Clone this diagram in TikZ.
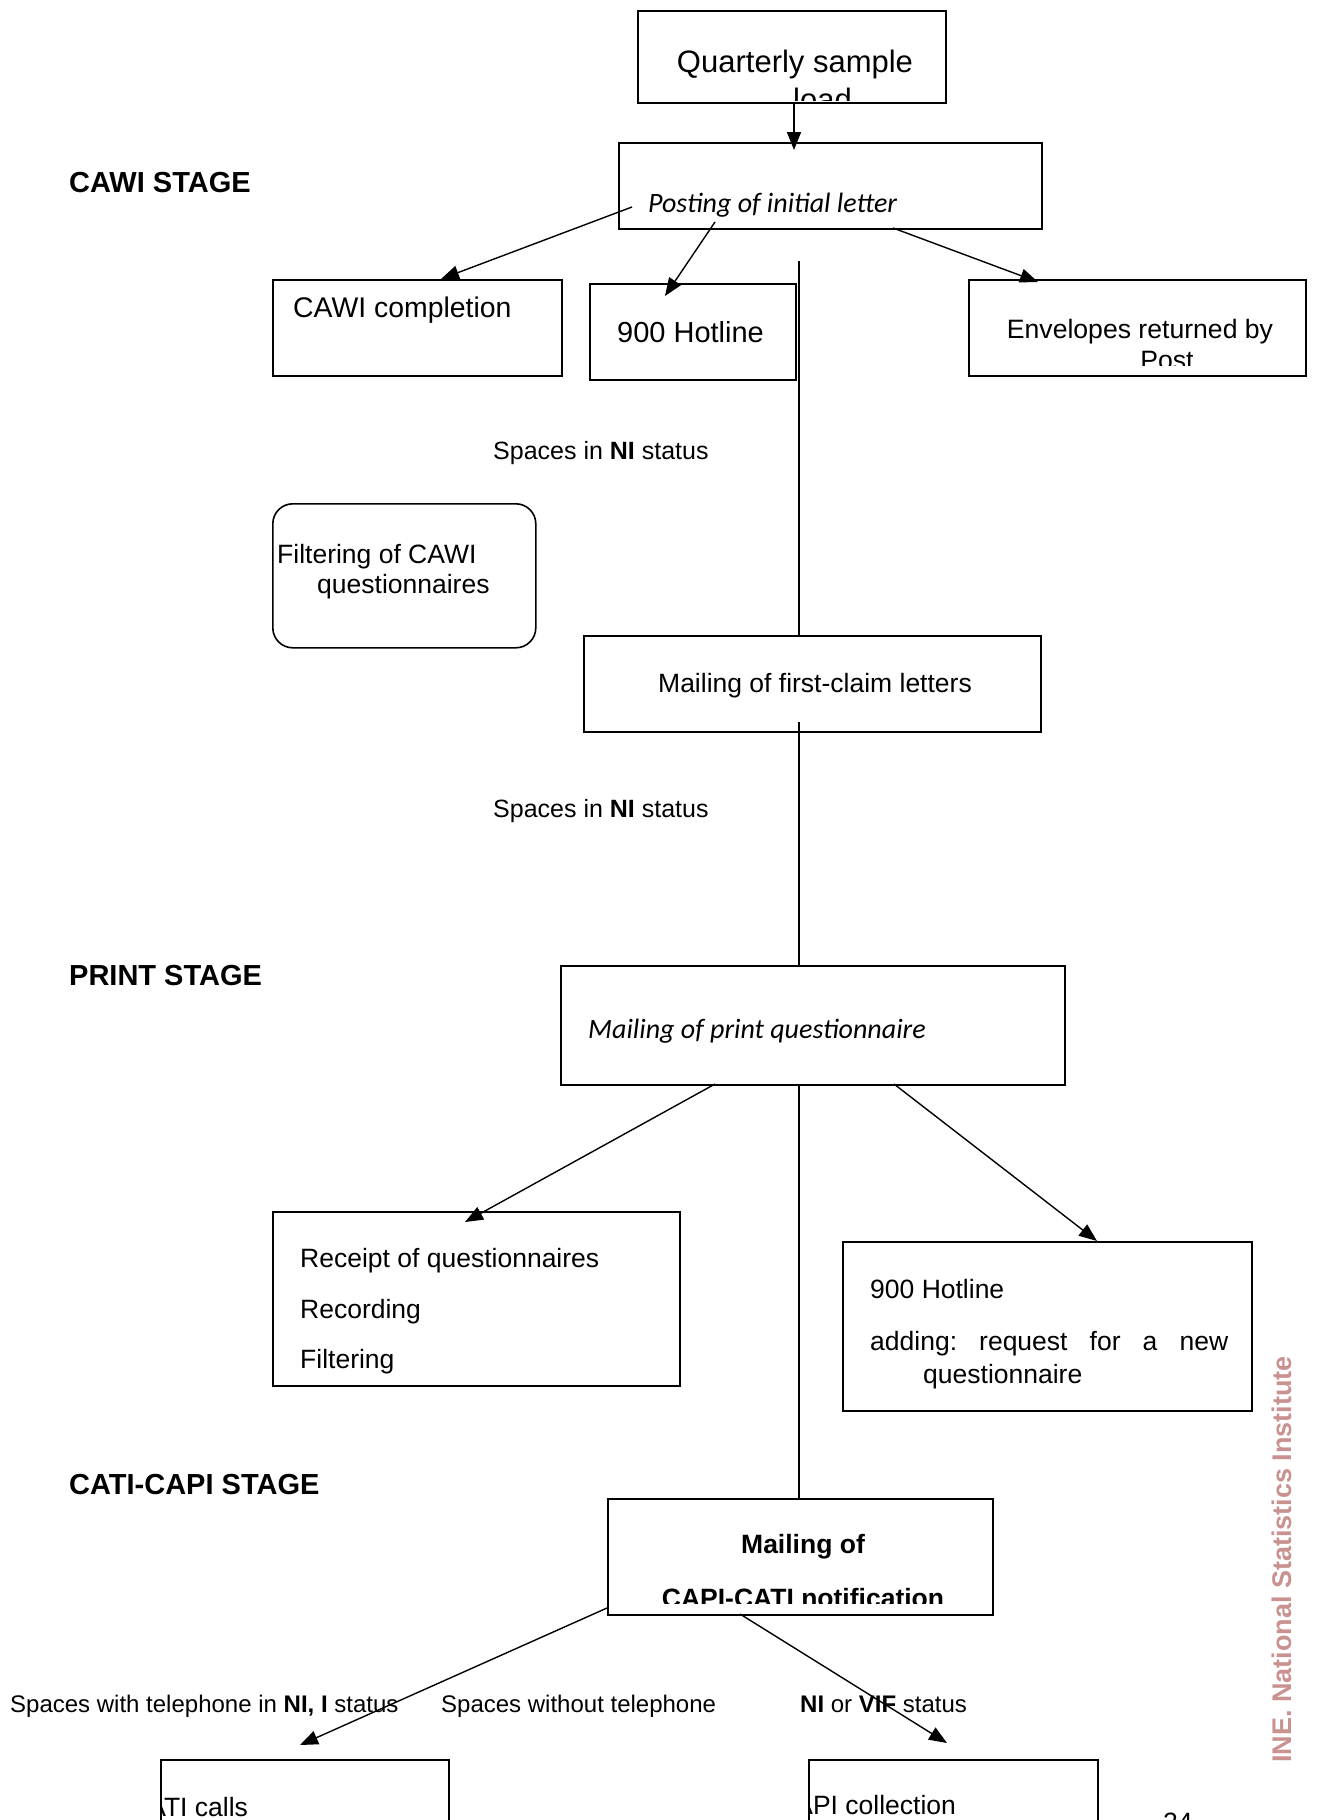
\documentclass[tikz,border=0pt]{standalone}
\usepackage{fontspec}
\setmainfont{Liberation Sans}
\newfontfamily\carl{Carlito}
\usetikzlibrary{arrows.meta}
\definecolor{wmcol}{RGB}{201,145,143}
\newcommand\fs[1]{\fontsize{#1}{#1}\selectfont}
\frenchspacing
\tikzset{
 box/.style={draw, line width=1.6pt, inner sep=0pt, anchor=north west},
 rbox/.style={box, rounded corners=20pt},
 lbl/.style={inner sep=0pt, anchor=base west, font=\fs{26.5}},
 lblc/.style={inner sep=0pt, anchor=base, font=\fs{26.5}},
 ital/.style={lbl, font=\carl\itshape\fs{28}},
 stage/.style={lbl, font=\bfseries\fs{29}},
 conn/.style={line width=1.4pt},
 arr/.style={line width=1.4pt, -{Triangle[length=18pt,width=14pt]}},
}
\begin{document}
\begin{tikzpicture}[x=1pt,y=-1pt]
\clip (0,0) rectangle (1319,1820);
\fill[white] (0,0) rectangle (1319,1820);

% ---------- boxes ----------
\node[box, minimum width=308pt, minimum height=92pt]  (qsl)   at (637,10)   {};
\node[box, minimum width=423pt, minimum height=86pt]  (post)  at (618,142)  {};
\node[box, minimum width=289pt, minimum height=96pt]  (cawi)  at (272,279)  {};
\node[box, minimum width=206pt, minimum height=96pt]  (hot1)  at (589,283)  {};
\node[box, minimum width=337pt, minimum height=96pt]  (env)   at (968,279)  {};
\node[rbox, minimum width=263pt, minimum height=144pt] (filt) at (272,503)  {};
\node[box, minimum width=457pt, minimum height=96pt]  (first) at (583,635)  {};
\node[box, minimum width=504pt, minimum height=119pt] (print) at (560,965)  {};
\node[box, minimum width=407pt, minimum height=174pt] (rec)   at (272,1211) {};
\node[box, minimum width=409pt, minimum height=169pt] (hot2)  at (842,1241) {};
\node[box, minimum width=385pt, minimum height=116pt] (capi)  at (607,1498) {};
\node[box, minimum width=288pt, minimum height=100pt] (cati)  at (160,1759) {};
\node[box, minimum width=289pt, minimum height=100pt] (capc)  at (808,1759) {};

% ---------- texts ----------
\node[lblc, font=\fs{31}] (qslt) at (795,72) {Quarterly sample};
\begin{scope}
 \clip (637,10) rectangle (945,100);
 \node[lbl, font=\fs{31}] (qsll) at (793,110) {load};
\end{scope}
\node[ital] (postt) at (648,212) {Posting of initial letter};
\node[lbl, font=\fs{28.4}] (cawit) at (293,317) {CAWI completion};
\node[lbl, font=\fs{29}] (hot1t) at (617,342) {900 Hotline};
\node[lblc, font=\fs{26.6}] (envt) at (1140,338) {Envelopes returned by};
\begin{scope}
 \clip (968,279) rectangle (1305,365);
 \node[lblc, font=\fs{26.6}] (envp) at (1167,369) {Post};
\end{scope}
\node[lbl, font=\fs{25}] (ni1) at (493,459) {Spaces in \textbf{NI} status};
\node[lbl] (filt1) at (277,563) {Filtering of CAWI};
\node[lbl] (filt2) at (317,593) {questionnaires};
\node[lblc] (firstt) at (815,692) {Mailing of first-claim letters};
\node[lbl, font=\fs{25}] (ni2) at (493,817) {Spaces in \textbf{NI} status};

\node[stage] (st1) at (69,192) {CAWI STAGE};
\node[stage] (st2) at (69,985) {PRINT STAGE};
\node[stage] (st3) at (69,1494) {CATI-CAPI STAGE};

\node[ital] (printt) at (588,1038) {Mailing of print questionnaire};
\node[lbl] (rec1) at (300,1267) {Receipt of questionnaires};
\node[lbl] (rec2) at (300,1318) {Recording};
\begin{scope}
 \clip (272,1211) rectangle (679,1373);
 \node[lbl] (rec3) at (300,1368) {Filtering};
\end{scope}
\node[lbl] (h21) at (870,1298) {900 Hotline};
\node[lbl] (h22) at (870,1350) {\makebox[358pt][s]{adding: request for a new}};
\node[lbl] (h23) at (923,1383) {questionnaire};

\node[lblc, font=\bfseries\fs{26.5}] (capi1) at (803,1553) {Mailing of};
\begin{scope}
 \clip (607,1498) rectangle (992,1603);
 \node[lblc, font=\bfseries\fs{26.5}] (capi2) at (803,1607) {CAPI-CATI notification};
\end{scope}

\node[lbl, font=\fs{24}] (b1) at (10,1712) {Spaces with telephone in \textbf{NI, I} status};
\node[lbl, font=\fs{24}] (b2) at (441,1712) {Spaces without telephone};
\node[lbl, font=\fs{24}] (b3) at (800,1712) {\textbf{NI} or \textbf{VIF} status};

\begin{scope}
 \clip (161.5,1759) rectangle (447,1817);
 \node[lbl] (catit) at (129,1816) {CATI calls};
\end{scope}
\begin{scope}
 \clip (809.5,1759) rectangle (1096,1819);
 \node[lbl] (capct) at (776,1814) {CAPI collection};
\end{scope}
\node[lbl] (pg) at (1163,1831) {24};

\node[inner sep=0pt, anchor=base west, rotate=90, font=\bfseries\fs{27}, text=wmcol] (wm) at (1291,1763) {INE. National Statistics Institute};

% ---------- connector end points ----------
\coordinate (a1s) at (794,102);  \coordinate (a1e) at (794,150);
\coordinate (a2s) at (632,207);  \coordinate (a2e) at (441,279);
\coordinate (a3s) at (715,222);  \coordinate (a3e) at (665,296);
\coordinate (a4s) at (893,228);  \coordinate (a4e) at (1038,282);
\coordinate (v1s) at (799,261);  \coordinate (v1e) at (799,635);
\coordinate (v2s) at (799,722);  \coordinate (v2e) at (799,965);
\coordinate (v3s) at (799,1084); \coordinate (v3e) at (799,1498);
\coordinate (p1s) at (715,1084); \coordinate (p1e) at (465,1222);
\coordinate (p2s) at (894,1084); \coordinate (p2e) at (1097,1241);
\coordinate (c1s) at (607,1608); \coordinate (c1e) at (300,1745);
\coordinate (c2s) at (740,1614); \coordinate (c2e) at (947,1743);

% ---------- connectors ----------
\draw[arr] (a1s) -- (a1e);
\draw[arr] (a2s) -- (a2e);
\draw[arr] (a3s) -- (a3e);
\draw[arr] (a4s) -- (a4e);
\draw[conn] (v1s) -- (v1e);
\draw[conn] (v2s) -- (v2e);
\draw[conn] (v3s) -- (v3e);
\draw[arr] (p1s) -- (p1e);
\draw[arr] (p2s) -- (p2e);
\draw[arr] (c1s) -- (c1e);
\draw[arr] (c2s) -- (c2e);
\end{tikzpicture}
\end{document}
